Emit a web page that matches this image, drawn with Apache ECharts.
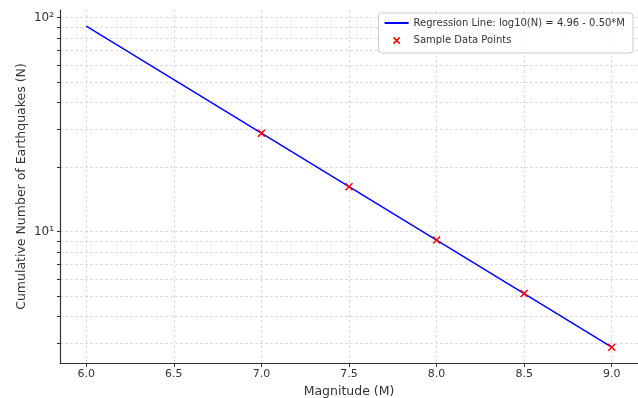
<!DOCTYPE html>
<html>
<head>
<meta charset="utf-8">
<script src="https://cdn.jsdelivr.net/npm/echarts@6/dist/echarts.min.js"></script>
<style>
  html, body { margin: 0; padding: 0; background: #fff; }
  #chart { width: 638px; height: 398px; }
</style>
</head>
<body>
<div id="chart"></div>
<script>
// regression line end points (M, N) and sample points
const lineM = [6.0, 9.0];
const lineN = [91.2, 2.88];
const sampleM = [7.0, 7.5, 8.0, 8.5, 9.0];
const sampleN = [28.8, 16.2, 9.12, 5.13, 2.88];

const xTicks = [6.0, 6.5, 7.0, 7.5, 8.0, 8.5, 9.0];
const yLabelTicks = [10, 100];
const yGridTicks = [3, 4, 5, 6, 7, 8, 9, 10, 20, 30, 40, 50, 60, 70, 80, 90, 100];

const lineName = 'Regression Line: log10(N) = 4.96 - 0.50*M';
const pointName = 'Sample Data Points';

const font = 'DejaVu Sans';
const xMark = 'path://M0,0 L10,10 M10,0 L0,10';
// same cross with empty margin so the legend draws it smaller
const xMarkSmall = 'path://M-3,-3 M0,0 L10,10 M10,0 L0,10 M13,13';

const chart = echarts.init(document.getElementById('chart'));

chart.setOption({
  animation: false,
  textStyle: { fontFamily: font },
  grid: { left: 60, right: 0, top: 10, bottom: 35, outerBoundsMode: 'none', containLabel: false },
  legend: {
    orient: 'vertical',
    right: 5, top: 13,
    itemGap: 5,
    itemWidth: 24, itemHeight: 10,
    padding: [5, 8, 5, 6],
    borderColor: '#cccccc', borderWidth: 1, borderRadius: 3,
    backgroundColor: 'rgba(255,255,255,0.9)',
    textStyle: { fontFamily: font, fontSize: 10, color: '#333' },
    data: [
      { name: lineName, icon: 'path://M0,4 L24,4 L24,6 L0,6 Z', itemStyle: { color: '#0000ff' } },
      { name: pointName, icon: xMarkSmall, itemStyle: { color: 'none', borderColor: '#ff0000', borderWidth: 1.5 } },
    ],
  },
  xAxis: {
    type: 'value',
    min: 5.85, max: 9.15,
    name: 'Magnitude (M)',
    nameLocation: 'middle', nameGap: 20,
    nameTextStyle: { fontFamily: font, fontSize: 12.5, color: '#333' },
    axisLine: { onZero: false, lineStyle: { color: '#333', width: 1.2 } },
    axisTick: { customValues: xTicks, length: 4, lineStyle: { color: '#333' } },
    axisLabel: {
      customValues: xTicks, margin: 6,
      fontFamily: font, fontSize: 11, color: '#333',
      formatter: v => v.toFixed(1),
    },
    splitLine: { show: true, lineStyle: { color: '#d6d6d6', type: [3, 2], width: 0.8 } },
  },
  yAxis: {
    type: 'log',
    logBase: 10,
    min: 2.43, max: 108.4,
    name: 'Cumulative Number of Earthquakes (N)',
    nameLocation: 'middle', nameGap: 38, nameMoveOverlap: false,
    nameTextStyle: { fontFamily: font, fontSize: 12.5, color: '#333', verticalAlign: 'middle' },
    axisLine: { show: true, lineStyle: { color: '#333', width: 1.2 } },
    axisTick: { customValues: yGridTicks, length: 3, lineStyle: { color: '#333' } },
    axisLabel: {
      customValues: yLabelTicks, margin: 6,
      fontFamily: font, fontSize: 12, color: '#333',
      formatter: v => (v >= 100 ? '10²' : '10¹'),
    },
    splitLine: { show: true, lineStyle: { color: '#d6d6d6', type: [3, 2], width: 0.8 } },
  },
  series: [
    {
      name: lineName,
      type: 'line',
      data: lineM.map((m, i) => [m, lineN[i]]),
      showSymbol: false,
      lineStyle: { color: '#0000ff', width: 1.5 },
      itemStyle: { color: '#0000ff' },
      z: 2,
    },
    {
      name: pointName,
      type: 'scatter',
      data: sampleM.map((m, i) => [m, sampleN[i]]),
      symbol: xMark,
      symbolSize: 7,
      itemStyle: { color: 'none', borderColor: '#ff0000', borderWidth: 1.5, opacity: 1 },
      z: 3,
    },
  ],
});
</script>
</body>
</html>
